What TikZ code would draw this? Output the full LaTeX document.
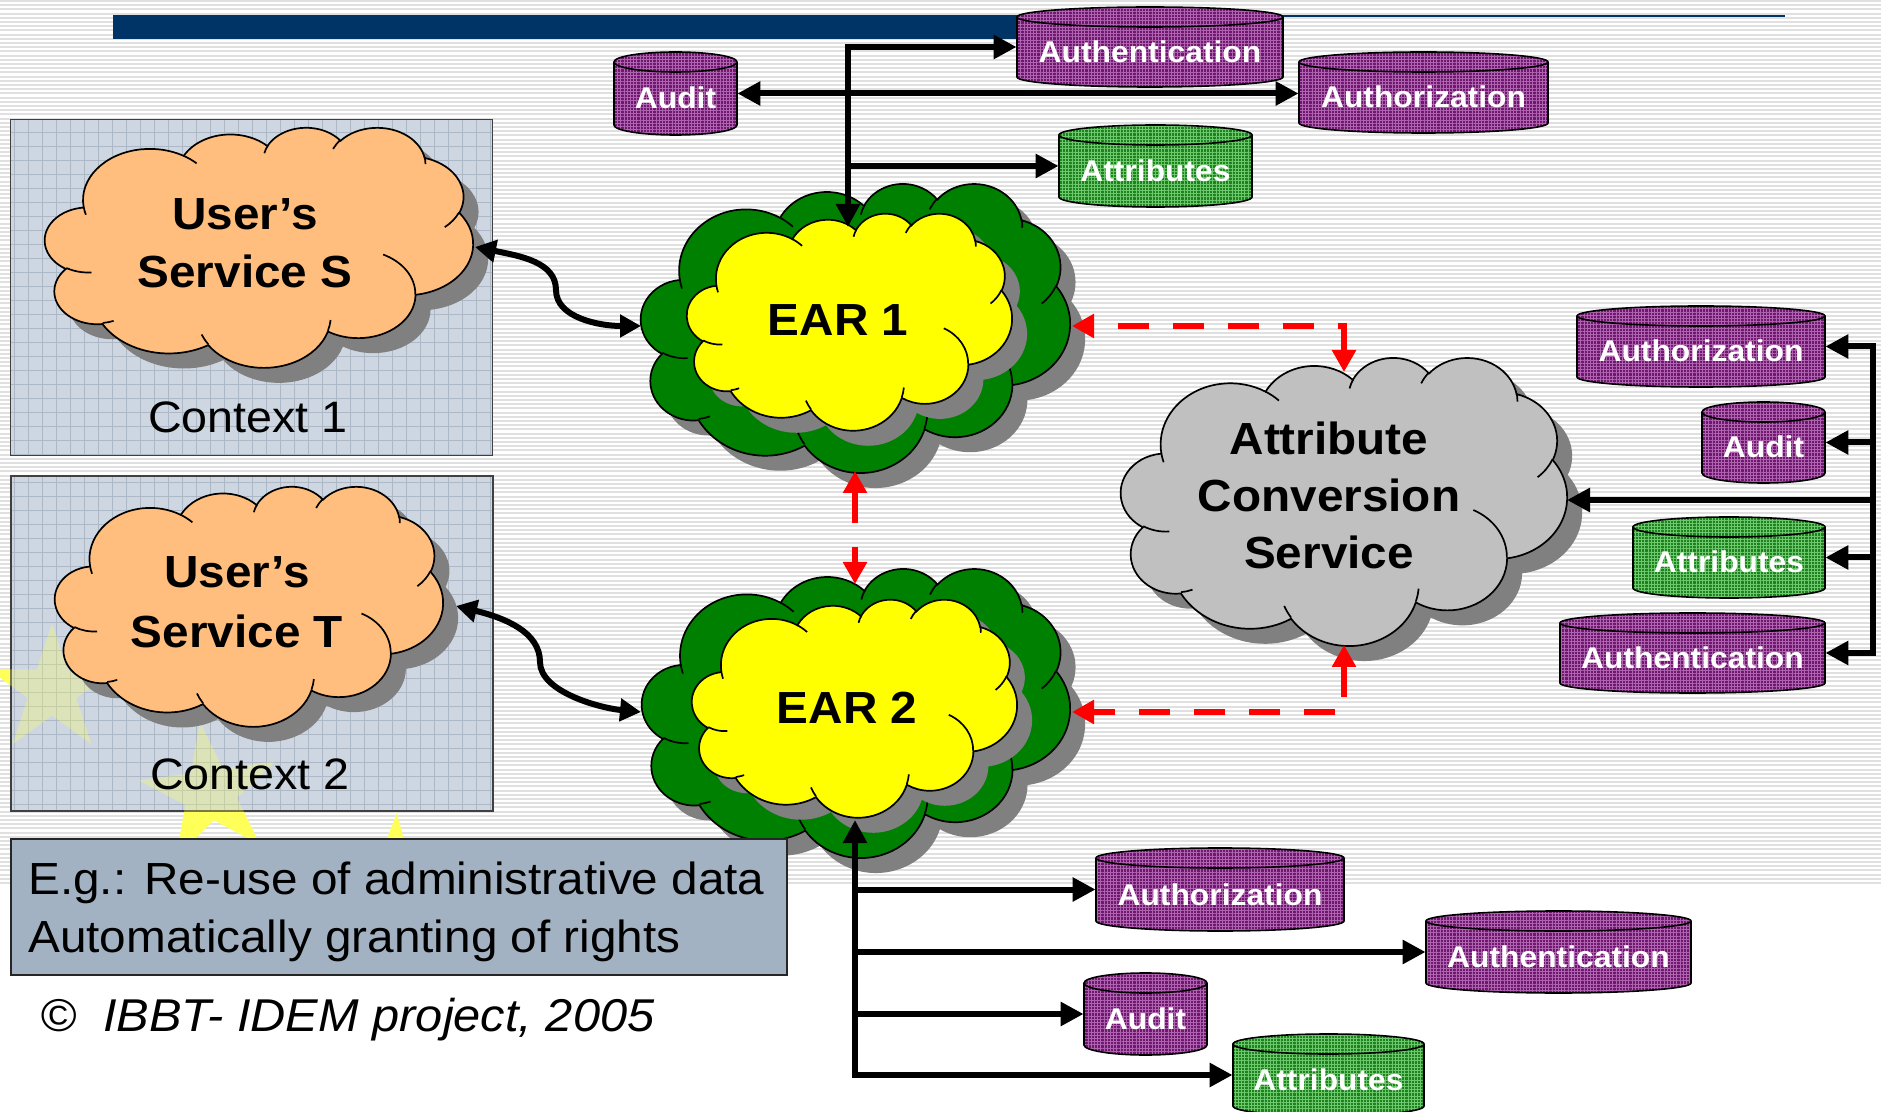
\documentclass[tikz,border=0pt]{standalone}
\usepackage{fontspec}
\setmainfont{Liberation Sans}[FakeStretch=1.06]
\usetikzlibrary{arrows.meta,patterns.meta,shapes.geometric}

\definecolor{navy}{RGB}{0,51,102}
\definecolor{stripe}{RGB}{224,224,224}
\definecolor{ctxfill}{RGB}{206,215,225}
\definecolor{ctxgrid}{RGB}{172,184,198}
\definecolor{notefill}{RGB}{163,178,194}
\definecolor{peach}{RGB}{255,190,125}
\definecolor{eargreen}{RGB}{0,128,0}
\definecolor{earyellow}{RGB}{255,255,0}
\definecolor{acsgray}{RGB}{192,192,192}
\definecolor{shade}{RGB}{128,128,128}
\definecolor{canpurple}{RGB}{112,24,112}
\definecolor{canpurplelt}{RGB}{175,100,175}
\definecolor{cangreen}{RGB}{30,130,30}
\definecolor{cangreenlt}{RGB}{110,200,110}
\definecolor{staryellow}{RGB}{255,255,90}

% Elliptic arcs of the cloud outline are given by visual angles;
% convert them to the parametric angles that TikZ expects.
\newcommand\cloudarcset[6]{%
  \pgfmathsetmacro\cloudta{atan2(#3*sin(#5),#4*cos(#5))}%
  \pgfmathsetmacro\cloudtb{atan2(#3*sin(#5+#6),#4*cos(#5+#6))}%
  \pgfmathsetmacro\cloudtd{\cloudtb-\cloudta}%
  \pgfmathsetmacro\cloudtd{\cloudtd<0 ? \cloudtd+360 : \cloudtd}%
  \xdef#1{\cloudta}\xdef#2{\cloudtd}}

\cloudarcset\cloudSa\cloudDa{156.319}{212.731}{-190.487483}{123.780533}
\cloudarcset\cloudSb\cloudDb{123.449}{168.218}{-144.102383}{89.945233}
\cloudarcset\cloudSc\cloudDc{101.042}{137.616}{-145.807917}{99.723017}
\cloudarcset\cloudSd\cloudDd{112.431}{152.662}{-130.986067}{117.241733}
\cloudarcset\cloudSe\cloudDe{123.449}{168.356}{-78.708883}{109.026917}
\cloudarcset\cloudSf\cloudDf{156.829}{213.426}{-46.26725}{130.269}
\cloudarcset\cloudSg\cloudDg{133.912}{182.106}{0.625017}{114.033333}
\cloudarcset\cloudSh\cloudDh{156.296}{213.310}{22.4516}{115.17255}
\cloudarcset\cloudSi\cloudDi{178.704}{244.051}{66.242633}{75.711017}
\cloudarcset\cloudSj\cloudDj{100.926}{136.991}{-274.942083}{146.735567}
\cloudarcset\cloudSk\cloudDk{100.579}{137.616}{-246.8285}{152.51885}

\cloudarcset\curlSa\curlDa{100.579}{137.616}{86.742}{26.4295}
\cloudarcset\curlSb\curlDb{100.926}{136.991}{73.61047}{11.44747}
\cloudarcset\curlSc\curlDc{156.296}{213.310}{137.62415}{14.0811}
\cloudarcset\curlSd\curlDd{156.296}{213.310}{6.45327}{15.99835}
\cloudarcset\curlSe\curlDe{133.912}{182.106}{-70.29235}{70.91737}
\cloudarcset\curlSf\curlDf{123.449}{168.356}{30.31803}{27.7515}
\cloudarcset\curlSg\curlDg{112.431}{152.662}{-13.74433}{14.8589}
\cloudarcset\curlSh\curlDh{112.431}{152.662}{-149.18145}{18.19537}
\cloudarcset\curlSi\curlDi{101.042}{137.616}{-163.49427}{17.68635}
\cloudarcset\curlSj\curlDj{156.319}{212.731}{-66.70695}{12.31935}
\cloudarcset\curlSk\curlDk{156.319}{212.731}{157.65435}{11.85817}

% cloud outline in a 1000 x 1000 box: #1 options, #2 #3 top-left, #4 width, #5 height
\newcommand\cloudshape[5]{%
  \pgfmathsetmacro\cloudxu{#4/2000}%
  \pgfmathsetmacro\cloudyu{-#5/2000}%
  \begin{scope}[shift={(#2,#3)}, x=\cloudxu pt, y=\cloudyu pt]
    \path[#1] (90.278,332.639)
      arc[start angle=\cloudSa, delta angle=\cloudDa, x radius=156.319, y radius=212.731]
      arc[start angle=\cloudSb, delta angle=\cloudDb, x radius=123.449, y radius=168.218]
      arc[start angle=\cloudSc, delta angle=\cloudDc, x radius=101.042, y radius=137.616]
      arc[start angle=\cloudSd, delta angle=\cloudDd, x radius=112.431, y radius=152.662]
      arc[start angle=\cloudSe, delta angle=\cloudDe, x radius=123.449, y radius=168.356]
      arc[start angle=\cloudSf, delta angle=\cloudDf, x radius=156.829, y radius=213.426]
      arc[start angle=\cloudSg, delta angle=\cloudDg, x radius=133.912, y radius=182.106]
      arc[start angle=\cloudSh, delta angle=\cloudDh, x radius=156.296, y radius=213.310]
      arc[start angle=\cloudSi, delta angle=\cloudDi, x radius=178.704, y radius=244.051]
      arc[start angle=\cloudSj, delta angle=\cloudDj, x radius=100.926, y radius=136.991]
      arc[start angle=\cloudSk, delta angle=\cloudDk, x radius=100.579, y radius=137.616]
      -- cycle;
  \end{scope}}

% the small inner strokes of a cloud
\newcommand\cloudcurls[5]{%
  \pgfmathsetmacro\cloudxu{#4/2000}%
  \pgfmathsetmacro\cloudyu{-#5/2000}%
  \begin{scope}[shift={(#2,#3)}, x=\cloudxu pt, y=\cloudyu pt]
    \path[#1]
      (108.634,605.949) arc[start angle=\curlSa, delta angle=\curlDa, x radius=100.579, y radius=137.616]
      (160.370,807.847) arc[start angle=\curlSb, delta angle=\curlDb, x radius=100.926, y radius=136.991]
      (381.435,904.861) arc[start angle=\curlSc, delta angle=\curlDc, x radius=156.296, y radius=213.310]
      (667.292,804.421) arc[start angle=\curlSd, delta angle=\curlDd, x radius=156.296, y radius=213.310]
      (790.023,531.343) arc[start angle=\curlSe, delta angle=\curlDe, x radius=133.912, y radius=182.106]
      (967.546,355.417) arc[start angle=\curlSf, delta angle=\curlDf, x radius=123.449, y radius=168.356]
      (887.130,125.602) arc[start angle=\curlSg, delta angle=\curlDg, x radius=112.431, y radius=152.662]
      (673.102,91.481) arc[start angle=\curlSh, delta angle=\curlDh, x radius=112.431, y radius=152.662]
      (512.523,109.259) arc[start angle=\curlSi, delta angle=\curlDi, x radius=101.042, y radius=137.616]
      (324.074,120.185) arc[start angle=\curlSj, delta angle=\curlDj, x radius=156.319, y radius=212.731]
      (95.532,365.486) arc[start angle=\curlSk, delta angle=\curlDk, x radius=156.319, y radius=212.731];
  \end{scope}}

% cloud with drop shadow: #1 fill, #2 #3 top-left, #4 width, #5 height
\newcommand\cloudfull[5]{%
  \cloudshape{fill=shade}{#2+15}{#3+15}{#4}{#5}%
  \cloudshape{fill=#1, draw=black, line width=0.85pt}{#2}{#3}{#4}{#5}%
  \cloudcurls{draw=black, line width=0.85pt}{#2}{#3}{#4}{#5}}

% database can: #1 name, #2 left, #3 right, #4 top ellipse y, #5 bottom ellipse y,
% #6 body colour, #7 texture colour, #8 label
\newcommand\dbcan[8]{%
  \pgfmathsetmacro\canrx{(#3-#2)/2}%
  \pgfmathsetmacro\canmx{(#3+#2)/2}%
  \pgfmathsetmacro\canmy{(#4+#5)/2}%
  \pgfmathsetmacro\canw{(#3-#2)/2}%
  \pgfmathsetmacro\canh{(#5-#4+20)/2}%
  \fill[#6] (#2,#4) -- (#2,#5) arc[start angle=180, end angle=0, x radius=\canrx, y radius=10]
    -- (#3,#4) arc[start angle=0, end angle=-180, x radius=\canrx, y radius=10] -- cycle;
  \fill[pattern={Lines[angle=0,distance=1.6pt,line width=0.35pt]}, pattern color=#7]
    (#2,#4) -- (#2,#5) arc[start angle=180, end angle=0, x radius=\canrx, y radius=10]
    -- (#3,#4) arc[start angle=0, end angle=-180, x radius=\canrx, y radius=10] -- cycle;
  \fill[pattern={Lines[angle=90,distance=1.6pt,line width=0.35pt]}, pattern color=#7]
    (#2,#4) -- (#2,#5) arc[start angle=180, end angle=0, x radius=\canrx, y radius=10]
    -- (#3,#4) arc[start angle=0, end angle=-180, x radius=\canrx, y radius=10] -- cycle;
  \draw[line width=0.8pt] (#2,#4) -- (#2,#5) arc[start angle=180, end angle=0, x radius=\canrx, y radius=10] -- (#3,#4);
  \draw[line width=0.8pt] (\canmx,#4) ellipse[x radius=\canrx, y radius=10];
  \node[inner sep=0pt, minimum width=\canw pt, minimum height=\canh pt] (#1) at (\canmx,\canmy) {};
  \node[canlabel, anchor=base] (#1-text) at (\canmx,\canmy+15.5) {#8};}

\begin{document}
\begin{tikzpicture}[x=0.5pt, y=-0.5pt,
  bigbold/.style={font=\fontsize{22.5}{27}\selectfont\bfseries, inner sep=0pt},
  bigreg/.style={font=\fontsize{22}{27}\selectfont, inner sep=0pt},
  canlabel/.style={font=\fontsize{15}{18}\selectfont\bfseries, text=white, inner sep=0pt},
  notetext/.style={font=\fontsize{22.5}{27}\selectfont, inner sep=0pt},
  copytext/.style={font=\fontsize{23}{27}\selectfont\itshape, inner sep=0pt},
  eustar/.style={star, star points=5, star point ratio=2.618, fill=staryellow, draw=none, inner sep=0pt},
  ctxbox/.style={draw=black!75, line width=0.8pt, inner sep=0pt,
    preaction={fill=ctxfill},
    preaction={pattern={Lines[angle=0,distance=7pt,line width=0.45pt]}, pattern color=ctxgrid},
    pattern={Lines[angle=90,distance=7pt,line width=0.45pt]}, pattern color=ctxgrid},
  notebox/.style={draw=black!85, line width=0.8pt, fill=notefill, inner sep=0pt},
  link/.style={line width=3pt, arrows={-Triangle[length=11.5pt,width=11.5pt]}},
  link2/.style={line width=3pt, arrows={Triangle[length=11.5pt,width=11.5pt]-Triangle[length=11.5pt,width=11.5pt]}},
  curvelink/.style={line width=3pt, arrows={Triangle[length=10.5pt,width=11pt]-Triangle[length=10.5pt,width=11pt]}},
  redlink/.style={red, line width=3pt, dash pattern=on 15.5pt off 12pt,
    arrows={Triangle[length=11pt,width=11.5pt]-Triangle[length=11pt,width=11.5pt]}}]

\useasboundingbox (0,0) rectangle (1881,1112);
\fill[white] (0,0) rectangle (1881,1112);

% striped slide background
\foreach \k in {0,...,210} \draw[stripe, line width=1pt] (0,\k*4.2+1) -- (1881,\k*4.2+1);

% title rule
\fill[navy] (113,15) rectangle (1090,39);
\draw[navy, line width=1pt] (1090,16) -- (1785,16);

% stars of the flag in the background
\node[eustar, minimum size=67pt] (starA) at (52,690) {};
\node[eustar, minimum size=72pt, rotate=8] (starB) at (210,793) {};
\node[eustar, minimum size=72pt, rotate=-3] (starC) at (393,885) {};

% contexts
\node[ctxbox, minimum width=241pt, minimum height=168pt, anchor=north west] (ctx1) at (10,119) {};
\node[ctxbox, minimum width=241pt, minimum height=167.5pt, anchor=north west] (ctx2) at (10,475) {};
\begin{scope}
  \clip (ctx2.south west) rectangle (ctx2.north east);
  \node[eustar, minimum size=67pt, opacity=0.3] (starAf) at (52,690) {};
  \node[eustar, minimum size=72pt, rotate=8, opacity=0.3] (starBf) at (210,793) {};
\end{scope}

% clouds
\cloudfull{peach}{45}{127}{428}{240}
\cloudfull{peach}{55}{486}{388}{240}
\cloudfull{eargreen}{641}{183}{429}{289}
\cloudfull{earyellow}{687}{213}{325}{217}
\cloudfull{eargreen}{642}{568}{428}{289}
\cloudfull{earyellow}{692}{599}{325}{218}
\cloudfull{acsgray}{1121}{357}{446}{288}

\node[bigbold, anchor=base] (usrS1) at (245,230) {User’s};
\node[bigbold, anchor=base] (usrS2) at (245,288) {Service S};
\node[bigreg, anchor=base] (ctx1lbl) at (248,433) {Context 1};
\node[bigbold, anchor=base] (usrT1) at (237,588) {User’s};
\node[bigbold, anchor=base] (usrT2) at (237,647) {Service T};
\node[bigreg, anchor=base] (ctx2lbl) at (250,789) {Context 2};
\node[bigbold, anchor=base] (ear1lbl) at (838,336) {EAR 1};
\node[bigbold, anchor=base] (ear2lbl) at (847,723) {EAR 2};
\node[bigbold, anchor=base] (acs1) at (1329,455) {Attribute};
\node[bigbold, anchor=base] (acs2) at (1329,512) {Conversion};
\node[bigbold, anchor=base] (acs3) at (1329,569) {Service};

% example note and copyright
\node[notebox, minimum width=388pt, minimum height=68pt, anchor=north west] (note) at (10,838) {};
\node[notetext, anchor=base west] (note1) at (28,894) {E.g.: Re-use of administrative data};
\node[notetext, anchor=base west] (note2) at (28,952) {Automatically granting of rights};
\node[copytext, anchor=base west] (copy) at (40,1031) {©\ \ IBBT- IDEM project, 2005};

% data stores around EAR 1
\dbcan{tAuthn}{1017}{1283}{17}{77}{canpurple}{canpurplelt}{Authentication}
\dbcan{tAuthz}{1299}{1548}{62}{123}{canpurple}{canpurplelt}{Authorization}
\dbcan{tAttr}{1059}{1252}{135}{197}{cangreen}{cangreenlt}{Attributes}
\dbcan{tAudit}{614}{737}{62}{125}{canpurple}{canpurplelt}{Audit}
% data stores of the conversion service
\dbcan{rAuthz}{1577}{1825}{316}{377}{canpurple}{canpurplelt}{Authorization}
\dbcan{rAudit}{1702}{1825}{412}{473}{canpurple}{canpurplelt}{Audit}
\dbcan{rAttr}{1633}{1825}{527}{588}{cangreen}{cangreenlt}{Attributes}
\dbcan{rAuthn}{1560}{1825}{623}{683}{canpurple}{canpurplelt}{Authentication}
% data stores around EAR 2
\dbcan{bAuthz}{1096}{1344}{858}{921}{canpurple}{canpurplelt}{Authorization}
\dbcan{bAuthn}{1426}{1691}{921}{983}{canpurple}{canpurplelt}{Authentication}
\dbcan{bAudit}{1084}{1207}{983}{1045}{canpurple}{canpurplelt}{Audit}
\dbcan{bAttr}{1233}{1424}{1044}{1106}{cangreen}{cangreenlt}{Attributes}

% connection points on the clouds
\coordinate (sE) at (475,247);
\coordinate (tE) at (456,606);
\coordinate (e1W) at (641,326);
\coordinate (e2W) at (641,712);
\coordinate (e1N) at (848,227);
\coordinate (e1E) at (1072,326);
\coordinate (e1S) at (855,471);
\coordinate (e2N) at (855,584);
\coordinate (e2E) at (1072,712);
\coordinate (e2S) at (855,820);
\coordinate (acsN) at (1344,372);
\coordinate (acsS) at (1344,645);
\coordinate (acsE) at (1567,500);
\coordinate (ttrunk) at (848,0);
\coordinate (rtrunk) at (1873,0);
\coordinate (btrunk) at (855,0);

% user services to the EARs
\draw[curvelink] (sE) .. controls (520,256) and (556,262) .. (556,290)
  .. controls (556,318) and (600,326) .. (e1W);
\draw[curvelink] (tE) .. controls (505,618) and (540,632) .. (540,662)
  .. controls (540,692) and (600,708) .. (e2W);

% EAR 1 stores
\draw[link2] (tAuthn.west) -| (e1N);
\draw[link2] (tAudit.east) -- (tAudit.east -| tAuthz.west);
\draw[link] (ttrunk |- tAttr.west) -- (tAttr.west);

% conversion service stores
\draw[link2] (rAuthz.east) -| (rtrunk |- rAuthn.east) -- (rAuthn.east);
\draw[link] (rtrunk |- rAudit.east) -- (rAudit.east);
\draw[link] (rtrunk |- rAttr.east) -- (rAttr.east);
\draw[link] (rtrunk |- acsE) -- (acsE);

% EAR 2 stores
\draw[link2] (e2S) |- (bAttr.west);
\draw[link] (btrunk |- bAuthz.west) -- (bAuthz.west);
\draw[link] (btrunk |- bAuthn.west) -- (bAuthn.west);
\draw[link] (btrunk |- bAudit.west) -- (bAudit.west);

% attribute exchange
\draw[redlink] (acsN) |- (e1E);
\draw[redlink] (acsS) |- (e2E);
\draw[redlink] (e1S) -- (e2N);
\end{tikzpicture}
\end{document}
